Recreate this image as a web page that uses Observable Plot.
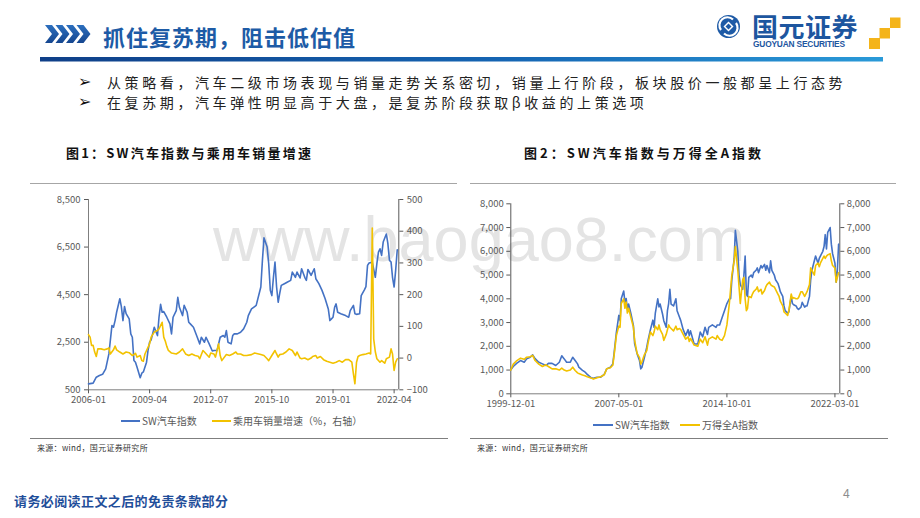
<!DOCTYPE html>
<html><head><meta charset="utf-8">
<script src="https://cdn.jsdelivr.net/npm/d3@7"></script>
<script src="https://cdn.jsdelivr.net/npm/@observablehq/plot@0.6"></script>
<style>
body{margin:0;width:920px;height:518px;position:relative;background:#fff;overflow:hidden;font-family:"Noto Sans CJK SC",sans-serif;}
.a{position:absolute;white-space:nowrap;}
.leg{font-size:10px;color:#595959;line-height:12px;}
.sw{display:inline-block;width:19px;height:2px;vertical-align:middle;margin-right:2px;position:relative;top:-1px;}
</style></head><body>

<script>
// ---------- DATA ----------
// Figure 1: SW auto index (left axis) and passenger-car sales growth % (right axis)
const auto1 = [["2006-01",750],["2006-04",780],["2006-06",1030],["2006-08",1100],["2006-10",1150],["2006-12",1380],["2007-02",2010],["2007-04",3200],["2007-05",3130],["2007-06",3410],["2007-07",3760],["2007-09",4330],["2007-10",4000],["2007-11",3410],["2007-12",4000],["2008-01",3700],["2008-03",3480],["2008-04",2850],["2008-05",2710],["2008-06",1730],["2008-07",1660],["2008-08",1450],["2008-10",1010],["2008-11",1200],["2008-12",1250],["2009-02",1660],["2009-03",2150],["2009-04",2500],["2009-05",2600],["2009-07",3130],["2009-09",2780],["2009-10",3550],["2009-11",4090],["2009-12",3760],["2010-01",3790],["2010-03",3550],["2010-05",3270],["2010-06",2850],["2010-07",3550],["2010-09",3830],["2010-10",4390],["2010-11",3970],["2011-01",3620],["2011-02",4050],["2011-04",3760],["2011-05",3340],["2011-06",3270],["2011-08",3130],["2011-10",2780],["2011-12",2430],["2012-01",2710],["2012-03",2500],["2012-04",2710],["2012-06",2430],["2012-08",2130],["2012-09",2150],["2012-11",2150],["2013-01",2710],["2013-03",2780],["2013-04",2710],["2013-05",2990],["2013-06",2500],["2013-08",2430],["2013-09",2780],["2013-10",2850],["2013-12",2850],["2014-02",2920],["2014-04",3060],["2014-06",3340],["2014-07",3620],["2014-09",3900],["2014-11",4000],["2014-12",4050],["2015-03",4820],["2015-04",5940],["2015-05",6890],["2015-07",6500],["2015-08",5800],["2015-09",4680],["2015-10",4460],["2015-11",5230],["2015-12",5870],["2016-01",4820],["2016-02",4180],["2016-03",4540],["2016-04",4890],["2016-06",4960],["2016-08",5030],["2016-10",5100],["2016-11",5450],["2017-01",5230],["2017-02",5450],["2017-04",5200],["2017-05",5590],["2017-07",5230],["2017-08",5100],["2017-09",5560],["2017-11",5310],["2018-01",5590],["2018-02",5170],["2018-04",4960],["2018-06",4680],["2018-08",4330],["2018-10",3900],["2018-11",3410],["2018-12",3480],["2019-01",3550],["2019-02",3970],["2019-03",4110],["2019-04",3760],["2019-06",3700],["2019-09",3620],["2019-11",3550],["2019-12",3830],["2020-02",4050],["2020-03",3700],["2020-04",3670],["2020-06",3700],["2020-07",4460],["2020-09",4700],["2020-10",4840],["2020-11",5730],["2020-12",5830],["2021-02",5870],["2021-04",5230],["2021-05",5800],["2021-06",6290],["2021-07",6430],["2021-08",6150],["2021-09",6710],["2021-11",7050],["2021-12",6640],["2022-01",5940],["2022-02",5870],["2022-03",5230],["2022-04",4820],["2022-05",5520],["2022-06",6390]];

const sales1 = [["2006-01",74],["2006-02",66],["2006-03",40],["2006-04",40],["2006-05",19],["2006-06",5],["2006-07",29],["2006-09",29],["2006-11",26],["2007-01",29],["2007-02",32],["2007-03",13],["2007-05",26],["2007-06",38],["2007-07",26],["2007-09",19],["2007-11",13],["2008-01",19],["2008-03",17],["2008-05",8],["2008-07",15],["2008-08",3],["2008-10",8],["2008-11",-8],["2008-12",-10],["2009-01",13],["2009-02",24],["2009-04",45],["2009-05",66],["2009-07",82],["2009-09",87],["2009-10",92],["2009-12",113],["2010-01",66],["2010-02",53],["2010-03",37],["2010-04",24],["2010-06",16],["2010-09",13],["2010-11",19],["2011-01",29],["2011-03",13],["2011-05",8],["2011-07",13],["2011-09",8],["2011-11",6],["2011-12",-2],["2012-02",24],["2012-03",19],["2012-05",8],["2012-06",3],["2012-07",16],["2012-09",13],["2012-10",3],["2012-12",45],["2013-01",8],["2013-02",-8],["2013-05",11],["2013-07",8],["2013-09",13],["2013-11",19],["2013-12",13],["2014-02",13],["2014-04",8],["2014-06",8],["2014-09",11],["2014-11",16],["2015-03",11],["2015-05",8],["2015-07",-2],["2015-08",-8],["2015-10",8],["2015-12",24],["2016-01",13],["2016-02",3],["2016-03",11],["2016-05",13],["2016-07",19],["2016-09",29],["2016-11",24],["2017-01",8],["2017-02",19],["2017-04",0],["2017-05",-2],["2017-07",0],["2017-09",-5],["2017-11",0],["2017-12",5],["2018-02",8],["2018-03",0],["2018-05",5],["2018-07",-5],["2018-09",-10],["2018-11",-13],["2019-01",-16],["2019-03",-13],["2019-05",-8],["2019-07",-13],["2019-09",-5],["2019-11",-5],["2020-01",-13],["2020-02",-50],["2020-03",-81],["2020-04",-13],["2020-05",5],["2020-06",8],["2020-08",11],["2020-10",13],["2020-12",16],["2021-01",13],["2021-02",410],["2021-03",60],["2021-04",20],["2021-05",-2],["2021-07",-13],["2021-08",-8],["2021-10",-16],["2021-11",-2],["2022-01",3],["2022-02",29],["2022-03",13],["2022-04",-39],["2022-05",-13],["2022-06",-2]];

const leftTicks1 = [500, 2500, 4500, 6500, 8500];
const rightTicks1 = [-100, 0, 100, 200, 300, 400, 500];
const xTicks1 = ["2006-01","2009-04","2012-07","2015-10","2019-01","2022-04"];

// Figure 2: SW auto index vs Wind All-A index
const dates2 = ["1999-12","2000-02","2000-05","2000-08","2000-11","2001-01","2001-04","2001-06","2001-08","2001-11","2002-02","2002-05","2002-07","2002-10","2003-01","2003-04","2003-06","2003-08","2003-10","2004-01","2004-03","2004-05","2004-07","2004-08","2004-11","2005-01","2005-03","2005-06","2005-08","2005-11","2006-02","2006-05","2006-07","2006-10","2006-12","2007-01","2007-03","2007-05","2007-06","2007-07","2007-09","2007-10","2007-11","2007-12","2008-01","2008-03","2008-05","2008-06","2008-08","2008-10","2008-11","2008-12","2009-02","2009-04","2009-05","2009-07","2009-09","2009-10","2009-11","2010-01","2010-02","2010-03","2010-05","2010-06","2010-08","2010-09","2010-10","2010-11","2010-12","2011-02","2011-04","2011-05","2011-07","2011-08","2011-10","2011-12","2012-02","2012-03","2012-04","2012-07","2012-10","2012-12","2013-02","2013-04","2013-06","2013-07","2013-10","2014-01","2014-02","2014-04","2014-06","2014-08","2014-10","2014-12","2015-01","2015-02","2015-04","2015-05","2015-07","2015-08","2015-09","2015-10","2015-11","2015-12","2016-01","2016-02","2016-03","2016-04","2016-06","2016-07","2016-08","2016-10","2016-11","2016-12","2017-02","2017-03","2017-05","2017-06","2017-07","2017-09","2017-10","2017-11","2018-01","2018-02","2018-04","2018-05","2018-06","2018-08","2018-09","2018-10","2018-12","2019-01","2019-03","2019-04","2019-05","2019-07","2019-08","2019-09","2019-11","2019-12","2020-02","2020-03","2020-04","2020-06","2020-07","2020-08","2020-10","2020-11","2021-01","2021-02","2021-03","2021-05","2021-06","2021-07","2021-08","2021-09","2021-11","2021-12","2022-01","2022-03","2022-04","2022-05","2022-06"];
const auto2 = [1010,1150,1290,1400,1330,1470,1540,1640,1480,1330,1260,1190,1280,1280,1190,1330,1600,1470,1330,1330,1540,1400,1260,1120,990,920,820,680,650,700,700,820,1050,1120,1260,1680,2590,3300,3080,4000,4330,3860,4010,3580,3780,3360,2870,2100,1690,1400,1050,1120,1540,1960,2240,2700,3100,2800,3400,4000,3660,3780,3360,3080,2800,3500,3800,4400,3780,3700,4000,3500,3220,3080,2700,2450,2700,2450,2650,2100,2100,2600,2400,2800,2500,2800,2900,2800,2900,2900,3200,3500,3800,4000,4000,4800,5700,6880,6000,5000,4600,4500,4400,5000,5800,4200,4100,4900,5000,4900,5100,5200,5300,5100,5400,5300,5450,5200,5400,5100,5600,5200,5000,4800,4650,4500,4300,4100,3700,3500,3400,3450,4100,3800,3750,3700,3600,3550,3650,3850,3650,3700,3700,4100,4800,5200,5600,5800,5500,5700,5800,6000,6200,6700,6100,6800,7000,6300,5900,5500,4700,5200,6300];
const allA2 = [1000,1250,1400,1500,1450,1540,1560,1620,1400,1250,1150,1220,1150,1050,1050,1000,1080,1000,960,1000,1120,980,880,850,790,760,720,670,620,680,720,800,1050,1100,1200,1600,2450,2850,2800,3800,4000,3600,3860,3400,3600,3200,2800,2250,1700,1520,1250,1350,1650,1820,2120,2600,2450,2600,2850,2700,2900,2700,2500,2250,2500,2700,2900,2800,2750,2650,2850,2700,2750,2700,2500,2300,2400,2200,2330,2050,2000,2300,2150,2400,2050,2300,2400,2300,2450,2300,2250,2450,2900,3800,4400,5000,5600,6200,5200,4500,3800,4300,4800,4900,4000,3500,3600,4100,4050,4200,4300,4400,4500,4300,4400,4200,4350,4500,4600,4700,4600,4550,4500,4400,4200,4100,3900,3700,3450,3400,3300,3500,4200,4000,4050,4000,4000,4050,4300,4300,4100,4200,4300,4600,5300,5200,5000,5400,5500,5350,5500,5700,5800,5700,5800,5850,5900,5600,5400,5300,4700,4900,5100];
const yTicks2 = [0,1000,2000,3000,4000,5000,6000,7000,8000];
const xTicks2 = ["1999-12-01","2007-05-01","2014-10-01","2022-03-01"];
</script>

<!-- watermark -->
<div class="a" style="left:213px;top:204px;font-family:'Liberation Sans',Arial,sans-serif;font-size:63px;line-height:70px;color:#e4e4e4;z-index:0;">www.baogao8.com</div>

<!-- header -->
<svg class="a" style="left:0;top:0" width="920" height="70">
  <defs>
    <linearGradient id="bar" x1="0" x2="1" y1="0" y2="0">
      <stop offset="0" stop-color="#0f3f88"/><stop offset="0.55" stop-color="#1565b3"/><stop offset="1" stop-color="#2a9ad8"/>
    </linearGradient>
    <linearGradient id="chev" x1="0" x2="0" y1="0" y2="1">
      <stop offset="0" stop-color="#2c6fbe"/><stop offset="1" stop-color="#15468f"/>
    </linearGradient>
  </defs>
  <g fill="url(#chev)">
    <polygon points="45,25 52,25 59,34 52,43 45,43 52,34"/>
    <polygon points="55.5,25 62.5,25 69.5,34 62.5,43 55.5,43 62.5,34"/>
    <polygon points="66,25 73,25 80,34 73,43 66,43 73,34"/>
    <polygon points="76.5,25 83.5,25 90.5,34 83.5,43 76.5,43 83.5,34"/>
  </g>
  <rect x="40" y="57" width="843" height="4.5" fill="url(#bar)"/>
  <!-- logo mark -->
  <circle cx="728.5" cy="26.5" r="11.5" fill="#1d5aa6"/>
  <path d="M721,30 A8,8 0 0 1 733,19.5" stroke="#fff" stroke-width="2.2" fill="none"/>
  <path d="M736,23 A8,8 0 0 1 724,33.5" stroke="#fff" stroke-width="2.2" fill="none"/>
  <polygon points="728.5,21.5 733.5,26.5 728.5,31.5 723.5,26.5" fill="#fff"/>
  <polygon points="728.5,23.5 731.5,26.5 728.5,29.5 725.5,26.5" fill="#1d5aa6"/>
  <rect x="869" y="38" width="11" height="11" fill="#f4b41a"/>
  <rect x="879.5" y="28" width="10.5" height="10.5" fill="#f4b41a"/>
  <rect x="890" y="17.5" width="10.5" height="10.5" fill="#f4b41a"/>
</svg>
<div class="a" style="left:103px;top:21px;font-size:22px;line-height:30px;font-weight:bold;color:#1d5ba6;letter-spacing:1px;">抓住复苏期，阻击低估值</div>
<div class="a" style="left:752px;top:10px;font-size:26px;line-height:31px;font-weight:bold;color:#1d569f;letter-spacing:0.5px;">国元证券</div>
<div class="a" style="left:753px;top:39px;font-family:'Liberation Sans',Arial,sans-serif;font-size:8.4px;line-height:11px;font-weight:bold;color:#1d569f;letter-spacing:-0.2px;">GUOYUAN SECURITIES</div>

<!-- bullets -->
<div class="a" style="left:78px;top:72px;font-family:'DejaVu Sans';font-size:16px;line-height:19px;color:#111;">➢</div>
<div class="a" style="left:78px;top:92px;font-family:'DejaVu Sans';font-size:16px;line-height:19px;color:#111;">➢</div>
<div class="a" style="left:107px;top:73px;font-size:14px;line-height:18px;letter-spacing:3.6px;color:#222;">从策略看，汽车二级市场表现与销量走势关系密切，销量上行阶段，板块股价一般都呈上行态势</div>
<div class="a" style="left:107px;top:93px;font-size:14px;line-height:18px;letter-spacing:3.6px;color:#222;">在复苏期，汽车弹性明显高于大盘，是复苏阶段获取β收益的上策选项</div>

<!-- figure titles -->
<div class="a" style="left:66px;top:144px;font-size:13px;line-height:17px;font-weight:bold;color:#111;letter-spacing:2.2px;">图1：SW汽车指数与乘用车销量增速</div>
<div class="a" style="left:524px;top:144px;font-size:13px;line-height:17px;font-weight:bold;color:#111;letter-spacing:3px;">图2：SW汽车指数与万得全A指数</div>
<div class="a" style="left:30px;top:183px;width:427px;height:1px;background:#a6a6a6;"></div>
<div class="a" style="left:470px;top:183px;width:426px;height:1px;background:#a6a6a6;"></div>

<div id="c1" class="a" style="left:30px;top:190px;z-index:1;"></div>
<div id="c2" class="a" style="left:470px;top:190px;z-index:1;"></div>

<!-- legends -->
<div class="a leg" style="left:121px;top:415px;"><span class="sw" style="background:#4472c4"></span>SW汽车指数</div>
<div class="a leg" style="left:212px;top:415px;"><span class="sw" style="background:#f2c200"></span>乘用车销量增速（%，右轴）</div>
<div class="a leg" style="left:593px;top:419px;"><span class="sw" style="background:#4472c4;width:20px"></span>SW汽车指数</div>
<div class="a leg" style="left:680px;top:419px;"><span class="sw" style="background:#f2c200;width:20px"></span>万得全A指数</div>

<div class="a" style="left:30px;top:438px;width:418px;height:1px;background:#7f7f7f;"></div>
<div class="a" style="left:470px;top:438px;width:418px;height:1px;background:#7f7f7f;"></div>
<div class="a" style="left:37px;top:442px;font-size:8px;line-height:11px;color:#333;letter-spacing:0.3px;">来源：wind，国元证券研究所</div>
<div class="a" style="left:477px;top:442px;font-size:8px;line-height:11px;color:#333;letter-spacing:0.3px;">来源：wind，国元证券研究所</div>

<!-- footer -->
<div class="a" style="left:14px;top:492px;font-size:13px;line-height:18px;font-weight:bold;color:#1f4e9a;letter-spacing:0.4px;">请务必阅读正文之后的免责条款部分</div>
<div class="a" style="left:843px;top:486px;font-family:'Liberation Sans',Arial,sans-serif;font-size:12px;line-height:16px;color:#8c8c8c;">4</div>

<script>
const blue = "#4472c4", gold = "#f2c200";
const pm = d3.utcParse("%Y-%m"), pd = d3.utcParse("%Y-%m-%d");
const font = "'Noto Sans CJK SC', sans-serif";

const L1 = [500, 8500], R1 = [-100, 500];
const toL = v => L1[0] + (v - R1[0]) * (L1[1] - L1[0]) / (R1[1] - R1[0]);
const fromL = y => R1[0] + (y - L1[0]) * (R1[1] - R1[0]) / (L1[1] - L1[0]);

const chart1 = Plot.plot({
  width: 426, height: 222,
  marginLeft: 58, marginRight: 57.7, marginTop: 9, marginBottom: 22.7,
  style: {background: "transparent", fontFamily: font, fontSize: "9.5px", color: "#595959", overflow: "visible"},
  x: {type: "utc", domain: [pm("2006-01"), pm("2022-07")], label: null},
  y: {domain: L1, label: null},
  marks: [
    Plot.ruleX([pm("2006-01")], {stroke: "#7f7f7f"}),
    Plot.ruleX([pm("2022-07")], {stroke: "#595959"}),
    Plot.ruleY([L1[0]], {stroke: "#7f7f7f"}),
    Plot.axisY(leftTicks1, {anchor: "left", tickSize: 4, tickPadding: 4, tickFormat: d3.format(","), label: null}),
    Plot.axisY(rightTicks1.map(toL), {anchor: "right", tickSize: 4, tickPadding: 4, tickFormat: d => d3.format("d")(Math.round(fromL(d))), label: null}),
    Plot.axisX(xTicks1.map(pm), {tickSize: 4, tickPadding: 2, tickFormat: d3.utcFormat("%Y-%m"), label: null}),
    Plot.line(auto1, {x: d => pm(d[0]), y: d => d[1], stroke: blue, strokeWidth: 1.6}),
    Plot.line(sales1, {x: d => pm(d[0]), y: d => toL(d[1]), stroke: gold, strokeWidth: 1.6})
  ]
});
document.getElementById("c1").appendChild(chart1);

const rows2 = dates2.map((d, i) => ({date: pm(d), auto: auto2[i], allA: allA2[i]}));
const chart2 = Plot.plot({
  width: 426, height: 222,
  marginLeft: 40.3, marginRight: 56.7, marginTop: 13.3, marginBottom: 18.7,
  style: {background: "transparent", fontFamily: font, fontSize: "9.5px", color: "#595959", overflow: "visible"},
  x: {type: "utc", domain: [pm("1999-12"), pm("2022-07")], label: null},
  y: {domain: [0, 8000], label: null},
  marks: [
    Plot.ruleX([pm("1999-12")], {stroke: "#595959"}),
    Plot.ruleX([pm("2022-07")], {stroke: "#595959"}),
    Plot.ruleY([0], {stroke: "#7f7f7f"}),
    Plot.axisY(yTicks2, {anchor: "left", tickSize: 4, tickPadding: 3, tickFormat: d3.format(","), label: null}),
    Plot.axisY(yTicks2, {anchor: "right", tickSize: 4, tickPadding: 3, tickFormat: d3.format(","), label: null}),
    Plot.axisX(xTicks2.map(pd), {tickSize: 4, tickPadding: 2, tickFormat: d3.utcFormat("%Y-%m-%d"), label: null}),
    Plot.line(rows2, {x: "date", y: "auto", stroke: blue, strokeWidth: 1.6}),
    Plot.line(rows2, {x: "date", y: "allA", stroke: gold, strokeWidth: 1.6})
  ]
});
document.getElementById("c2").appendChild(chart2);
</script>
</body></html>
